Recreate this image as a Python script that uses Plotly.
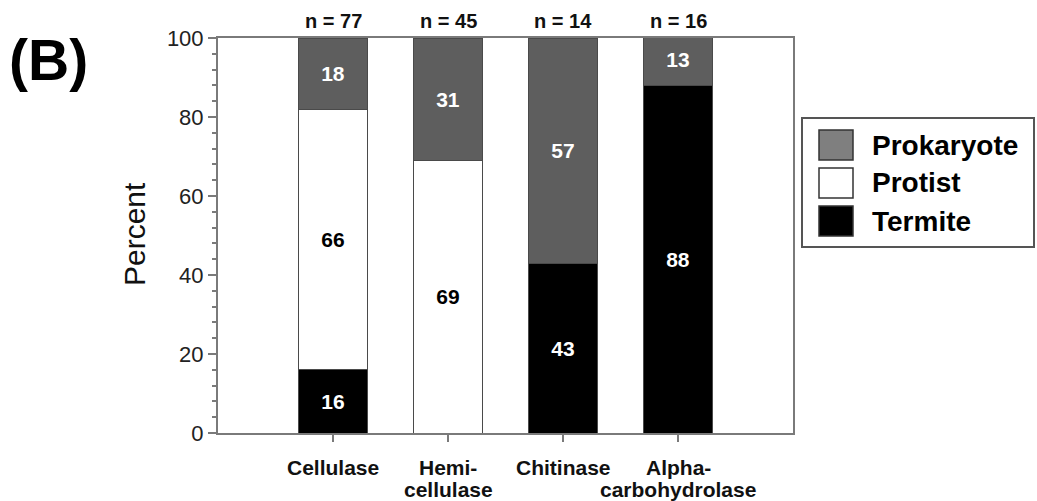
import plotly.graph_objects as go

# Enzyme classes and the share (%) of genes attributed to each source
categories = ["Cellulase", "Hemicellulase", "Chitinase", "Alphacarbohydrolase"]
tick_labels = [["Cellulase"], ["Hemi-", "cellulase"], ["Chitinase"], ["Alpha-", "carbohydrolase"]]
sample_sizes = [77, 45, 14, 16]
termite = [16, 0, 43, 88]
protist = [66, 69, 0, 0]
prokaryote = [18, 31, 57, 13]

FONT = "Liberation Sans, Arial, sans-serif"
W, H = 1037, 501
L, R, T, B = 218, 793, 38, 433  # plot box in pixels


def px_x(px):
    return (px - L) / (R - L)


def px_y(py):
    return (B - py) / (B - T)


def seg_text(vals):
    return [str(v) if v > 0 else "" for v in vals]


fig = go.Figure()
series = [
    ("Termite", termite, "#000000", "#ffffff"),
    ("Protist", protist, "#ffffff", "#000000"),
    ("Prokaryote", prokaryote, "#5e5e5e", "#ffffff"),
]
for name, vals, fill, txt in series:
    fig.add_trace(go.Bar(
        x=categories, y=vals, name=name,
        width=0.6,
        marker=dict(color=fill, line=dict(color="#4a4a4a", width=1)),
        text=seg_text(vals), textposition="inside", insidetextanchor="middle",
        textfont=dict(family=FONT, size=21, color=txt, weight="bold"),
        textangle=0, showlegend=False, hoverinfo="skip",
    ))

annotations = []
# sample size above each bar
for cat, n in zip(categories, sample_sizes):
    annotations.append(dict(
        x=cat, y=px_y(21), xref="x", yref="paper", text=f"<b>n = {n}</b>",
        showarrow=False, font=dict(family=FONT, size=20, color="#111"),
        xanchor="center", yanchor="middle",
    ))
# category labels under the axis, one annotation per line
for cat, lines in zip(categories, tick_labels):
    for i, line in enumerate(lines):
        annotations.append(dict(
            x=cat, y=px_y(467 + 23 * i), xref="x", yref="paper", text=f"<b>{line}</b>",
            showarrow=False, font=dict(family=FONT, size=21, color="#111"),
            xanchor="center", yanchor="middle",
        ))
# y-axis title
annotations.append(dict(
    x=px_x(134), y=px_y(234), xref="paper", yref="paper", text="Percent",
    textangle=-90, showarrow=False, font=dict(family=FONT, size=30, color="#111"),
    xanchor="center", yanchor="middle",
))
# panel letter
annotations.append(dict(
    x=px_x(48), y=px_y(60), xref="paper", yref="paper", text="<b>(B)</b>",
    showarrow=False, font=dict(family=FONT, size=57, color="#000"),
    xanchor="center", yanchor="middle",
))

# legend drawn as a boxed key
shapes = [dict(
    type="rect", xref="paper", yref="paper",
    x0=px_x(802), x1=px_x(1034), y0=px_y(247), y1=px_y(118),
    line=dict(color="#555", width=2), fillcolor="white",
)]
legend_items = [("Prokaryote", "#7f7f7f", 130, 160),
                ("Protist", "#ffffff", 168, 198),
                ("Termite", "#000000", 206, 236)]
for name, col, y0, y1 in legend_items:
    shapes.append(dict(
        type="rect", xref="paper", yref="paper",
        x0=px_x(819), x1=px_x(853), y0=px_y(y1), y1=px_y(y0),
        line=dict(color="#333", width=1.5), fillcolor=col,
    ))
    annotations.append(dict(
        x=px_x(870), y=px_y((y0 + y1) / 2), xref="paper", yref="paper",
        text=f"<b>{name}</b>", showarrow=False,
        font=dict(family=FONT, size=28, color="#000"),
        xanchor="left", yanchor="middle",
    ))

fig.update_layout(
    width=W, height=H,
    margin=dict(l=L, r=W - R, t=T, b=H - B),
    barmode="stack", bargap=0.4,
    plot_bgcolor="white", paper_bgcolor="white",
    font=dict(family=FONT, color="#222"),
    annotations=annotations, shapes=shapes,
    showlegend=False,
)
fig.update_xaxes(
    range=[-1, 4], showticklabels=False,
    showline=True, linecolor="#7a7a7a", linewidth=2, mirror=True,
    ticks="outside", ticklen=7, tickcolor="#7a7a7a", tickwidth=2,
    showgrid=False, zeroline=False,
)
fig.update_yaxes(
    range=[0, 100], tickvals=[0, 20, 40, 60, 80, 100],
    showline=True, linecolor="#7a7a7a", linewidth=2, mirror=True,
    ticks="outside", ticklen=8, tickcolor="#7a7a7a", tickwidth=2,
    minor=dict(dtick=4, ticks="outside", ticklen=4, tickcolor="#7a7a7a", tickwidth=1.5),
    tickfont=dict(family=FONT, size=22, color="#222"),
    showgrid=False, zeroline=False,
)

fig.write_html("out.html")
